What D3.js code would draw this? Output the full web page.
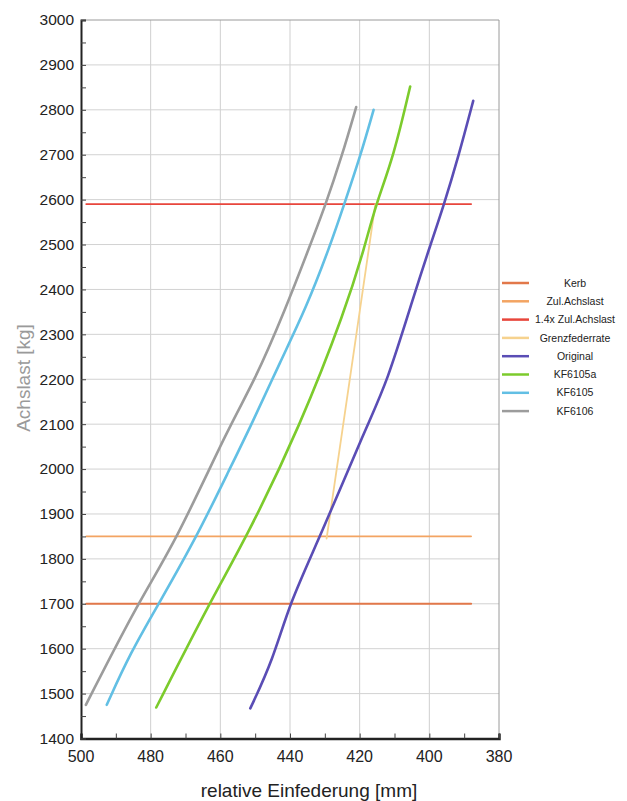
<!DOCTYPE html>
<html>
<head>
<meta charset="utf-8">
<script src="https://cdn.jsdelivr.net/npm/d3@7"></script>
<style>
  body { margin: 0; background: #fff; }
  svg { font-family: "Liberation Sans", Arial, sans-serif; }
</style>
</head>
<body>
<div id="chart"></div>
<script>
(function() {
    'use strict';

    // Daten: [Einfederung mm, Achslast kg]
    const original = [[451.4,1467],[444.9,1575],[440.1,1702],[431.3,1850],[418.0,2096],[412.2,2191],
                      [404.5,2385],[399.7,2499],[395.9,2586],[391.6,2697],[387.4,2820]];
    const kf6105a  = [[478.4,1469],[462.9,1705],[452.4,1849],[437.1,2096],[424.1,2354],[418.4,2499],
                      [415.5,2586],[410.2,2697],[405.5,2852]];
    const kf6105   = [[492.6,1475],[485.9,1590],[477.3,1705],[466.8,1849],[457.2,2002],[451.0,2100],
                      [442.8,2239],[435.3,2360],[428.4,2499],[424.6,2586],[419.8,2697],[416.0,2800]];
    const kf6106   = [[498.6,1475],[483.5,1705],[473.0,1835],[457.2,2100],[450.5,2191],[441.4,2354],
                      [434.2,2499],[429.9,2586],[425.1,2697],[421.0,2806]];
    const grenz    = [[429.5,1845],[415.5,2590]];

    // Lastgrenzen
    const kerbLast = 1700;
    const zulAchslast = 1850;
    const zulAchslast14 = 2590;
    const lastRange = [498.5, 388];

    const xTicks = [500, 480, 460, 440, 420, 400, 380];
    const yTicks = d3.range(1400, 3001, 100);

    const series = [
        { name: 'Kerb',              color: '#e2784a', w: 2,   data: lastRange.map(v => [v, kerbLast]) },
        { name: 'Zul.Achslast',      color: '#f3a462', w: 1.6, data: lastRange.map(v => [v, zulAchslast]) },
        { name: '1.4x Zul.Achslast', color: '#e8463c', w: 1.8, data: lastRange.map(v => [v, zulAchslast14]) },
        { name: 'Grenzfederrate',    color: '#f6d28e', w: 1.8, data: grenz },
        { name: 'Original',          color: '#5a4db5', w: 2.6, data: original },
        { name: 'KF6105a',           color: '#7ccb2c', w: 2.6, data: kf6105a },
        { name: 'KF6105',            color: '#62bfe4', w: 2.6, data: kf6105 },
        { name: 'KF6106',            color: '#9c9c9c', w: 2.6, data: kf6106 }
    ];

    const width = 627, height = 801;
    const margin = { top: 20, right: 128, bottom: 62.5, left: 81 };
    const innerW = width - margin.left - margin.right;
    const innerH = height - margin.top - margin.bottom;

    const svg = d3.select('#chart').append('svg')
        .attr('width', width)
        .attr('height', height);

    const g = svg.append('g').attr('transform', `translate(${margin.left},${margin.top})`);

    const x = d3.scaleLinear().domain([500, 380]).range([0, innerW]);
    const y = d3.scaleLinear().domain([1400, 3000]).range([innerH, 0]);

    // Gitter
    g.append('g').selectAll('line').data(xTicks.slice(1, -1)).join('line')
        .attr('x1', d => x(d)).attr('x2', d => x(d))
        .attr('y1', 0).attr('y2', innerH)
        .attr('stroke', '#cfcfcf').attr('stroke-width', 1);
    g.append('g').selectAll('line').data(yTicks.slice(1, -1)).join('line')
        .attr('x1', 0).attr('x2', innerW)
        .attr('y1', d => y(d)).attr('y2', d => y(d))
        .attr('stroke', '#d2d2d2').attr('stroke-width', 1);

    // Rahmen oben/rechts
    g.append('path')
        .attr('d', `M0,0H${innerW}V${innerH}`)
        .attr('fill', 'none').attr('stroke', '#9a9a9a').attr('stroke-width', 1);

    // Kurven
    const line = d3.line().x(d => x(d[0])).y(d => y(d[1])).curve(d3.curveBasis);
    g.append('g').selectAll('path').data(series).join('path')
        .attr('d', d => line(d.data))
        .attr('fill', 'none')
        .attr('stroke', d => d.color)
        .attr('stroke-width', d => d.w)
        .attr('stroke-linejoin', 'round')
        .attr('stroke-linecap', 'round');

    // Achsen
    const xAxis = g.append('g').attr('transform', `translate(0,${innerH})`)
        .call(d3.axisBottom(x).tickValues(d3.range(500, 379, -10)).tickSize(-5).tickFormat(''));
    xAxis.select('.domain').attr('stroke', '#222').attr('stroke-width', 2.5);
    xAxis.selectAll('.tick line').attr('stroke', '#444');
    g.append('g').selectAll('text').data(xTicks).join('text')
        .attr('x', d => x(d)).attr('y', innerH + 23)
        .attr('text-anchor', 'middle')
        .attr('font-size', 16).attr('fill', '#222')
        .text(d => d);

    const yAxis = g.append('g')
        .call(d3.axisLeft(y).tickValues(d3.range(1400, 3001, 50)).tickSize(-5).tickFormat(''));
    yAxis.select('.domain').attr('stroke', '#222').attr('stroke-width', 2);
    yAxis.selectAll('.tick line').attr('stroke', '#444');
    g.append('g').selectAll('text').data(yTicks).join('text')
        .attr('x', -7).attr('y', d => y(d)).attr('dy', '0.35em')
        .attr('text-anchor', 'end')
        .attr('font-size', 15.5).attr('fill', '#222')
        .text(d => d);

    // Achsentitel
    g.append('text')
        .attr('x', x(440) + 19).attr('y', innerH + 58)
        .attr('text-anchor', 'middle')
        .attr('font-size', 19).attr('fill', '#222')
        .text('relative Einfederung [mm]');
    g.append('text')
        .attr('transform', `translate(${23 - margin.left},${378 - margin.top}) rotate(-90)`)
        .attr('text-anchor', 'middle').attr('dy', '0.35em')
        .attr('font-size', 19).attr('fill', '#9a9a9a')
        .text('Achslast [kg]');

    // Legende
    const legend = svg.append('g').attr('transform', 'translate(502,283)');
    const item = legend.selectAll('g').data(series).join('g')
        .attr('transform', (d, i) => `translate(0,${i * 18.3})`);
    item.append('line')
        .attr('x1', 0).attr('x2', 27)
        .attr('stroke', d => d.color).attr('stroke-width', 2.5);
    item.append('text')
        .attr('x', 73).attr('dy', '0.35em')
        .attr('text-anchor', 'middle')
        .attr('font-size', 10.5).attr('fill', '#222')
        .text(d => d.name);
})();
</script>
</body>
</html>
